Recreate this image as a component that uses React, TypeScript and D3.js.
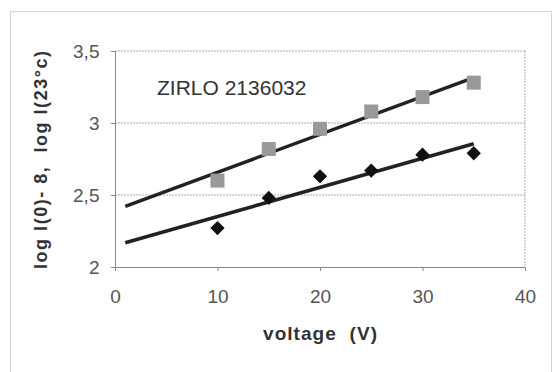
import React, { useEffect, useRef } from "react";
import * as d3 from "d3";

// data
const voltages = [10, 15, 20, 25, 30, 35];
const squareValues = [2.6, 2.82, 2.96, 3.08, 3.18, 3.28];
const diamondValues = [2.27, 2.48, 2.63, 2.67, 2.78, 2.79];
const xTicks = [0, 10, 20, 30, 40];
const yTicks = [2, 2.5, 3, 3.5];
const trendRange = [1, 35];

const fmt = (v: number) => String(v).replace(".", ",");

// least squares fit, like a spreadsheet trendline
function fit(xs: number[], ys: number[]) {
  const mx = d3.mean(xs) as number;
  const my = d3.mean(ys) as number;
  let sxy = 0;
  let sxx = 0;
  xs.forEach((x, i) => {
    sxy += (x - mx) * (ys[i] - my);
    sxx += (x - mx) * (x - mx);
  });
  const b = sxy / sxx;
  return (x: number) => my + b * (x - mx);
}

export default function App() {
  const ref = useRef<SVGSVGElement>(null);

  useEffect(() => {
    const svg = d3.select(ref.current);
    svg.selectAll("*").remove();

    const x = d3.scaleLinear().domain([0, 40]).range([115, 525]);
    const y = d3.scaleLinear().domain([2, 3.5]).range([267, 51]);
    const font = "'Liberation Sans', Arial, sans-serif";

    // outer frame
    svg
      .append("rect")
      .attr("x", 10.5)
      .attr("y", 11.5)
      .attr("width", 541)
      .attr("height", 380)
      .attr("fill", "none")
      .attr("stroke", "#aaa")
      .attr("stroke-width", 1)
      .attr("stroke-dasharray", "1,1");

    // gridlines
    svg
      .append("g")
      .selectAll("line")
      .data(yTicks.slice(1))
      .enter()
      .append("line")
      .attr("x1", x(0))
      .attr("x2", x(40))
      .attr("y1", d => y(d))
      .attr("y2", d => y(d))
      .attr("stroke", "#aaa")
      .attr("stroke-dasharray", "2,1");

    // right border of plot
    svg
      .append("line")
      .attr("x1", x(40))
      .attr("x2", x(40))
      .attr("y1", y(3.5))
      .attr("y2", y(2))
      .attr("stroke", "#aaa")
      .attr("stroke-dasharray", "2,1");

    const xAxis = d3.axisBottom(x).tickValues(xTicks).tickSize(4).tickFormat(d => fmt(d as number));
    const yAxis = d3.axisLeft(y).tickValues(yTicks).tickSize(4).tickFormat(d => fmt(d as number));

    const gx = svg.append("g").attr("transform", "translate(0," + y(2) + ")").call(xAxis);
    const gy = svg.append("g").attr("transform", "translate(" + x(0) + ",0)").call(yAxis);
    [gx, gy].forEach(g => {
      g.select(".domain").attr("stroke", "#888");
      g.selectAll(".tick line").attr("stroke", "#888");
      g.selectAll(".tick text")
        .attr("font-family", font)
        .attr("font-size", 19)
        .attr("fill", "#555");
    });
    gx.selectAll(".tick text").attr("dy", "1.55em");
    gy.selectAll(".tick text").attr("dx", "-0.45em");

    // trendlines
    const line = d3
      .line<number>()
      .x(d => x(d))
      .curve(d3.curveLinear);
    [squareValues, diamondValues].forEach(vals => {
      const f = fit(voltages, vals);
      svg
        .append("path")
        .attr("d", line.y(d => y(f(d)))(trendRange))
        .attr("fill", "none")
        .attr("stroke", "#222")
        .attr("stroke-width", 3.5);
    });

    // markers
    svg
      .append("g")
      .selectAll("rect")
      .data(squareValues)
      .enter()
      .append("rect")
      .attr("x", (d, i) => x(voltages[i]) - 7)
      .attr("y", d => y(d) - 7)
      .attr("width", 14)
      .attr("height", 14)
      .attr("fill", "#999");

    svg
      .append("g")
      .selectAll("path")
      .data(diamondValues)
      .enter()
      .append("path")
      .attr("d", d3.symbol(d3.symbolDiamond2, 130)())
      .attr("transform", (d, i) => "translate(" + x(voltages[i]) + "," + y(d) + ")")
      .attr("fill", "#111");

    // labels
    svg
      .append("text")
      .attr("x", 157)
      .attr("y", 95)
      .attr("font-family", font)
      .attr("font-size", 21)
      .attr("fill", "#333")
      .text("ZIRLO 2136032");

    svg
      .append("text")
      .attr("transform", "translate(47,160) rotate(-90)")
      .attr("text-anchor", "middle")
      .attr("font-family", font)
      .attr("font-size", 18)
      .attr("font-weight", "bold")
      .attr("fill", "#333")
      .attr("textLength", 218)
      .attr("lengthAdjust", "spacing")
      .style("white-space", "pre")
      .text("log I(0)- 8,  log I(23°c)");

    svg
      .append("text")
      .attr("x", 320)
      .attr("y", 340)
      .attr("text-anchor", "middle")
      .attr("font-family", font)
      .attr("font-size", 19)
      .attr("font-weight", "bold")
      .attr("fill", "#333")
      .attr("textLength", 114)
      .attr("lengthAdjust", "spacing")
      .style("white-space", "pre")
      .text("voltage  (V)");
  }, []);

  return (
    <svg
      ref={ref}
      width={556}
      height={372}
      style={{ position: "absolute", left: 0, top: 0, background: "#fff" }}
    />
  );
}
